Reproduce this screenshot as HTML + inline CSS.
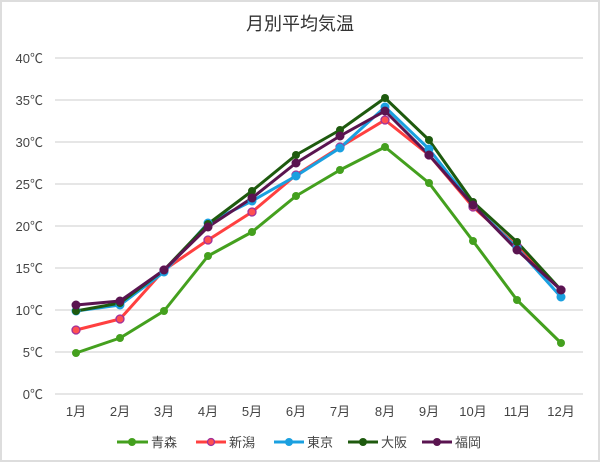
<!DOCTYPE html>
<html><head><meta charset="utf-8"><style>
html,body{margin:0;padding:0;background:#fff}
svg{display:block}
text{font-family:"Liberation Sans","Noto Sans CJK JP",sans-serif}
</style></head><body>
<svg width="600" height="462" viewBox="0 0 600 462" xmlns="http://www.w3.org/2000/svg">
<rect x="1" y="1" width="598" height="460" fill="#fff" stroke="#ddd" stroke-width="2"/>
<text x="300" y="30" text-anchor="middle" font-size="18" fill="#333">月別平均気温</text>
<g stroke="#ddd" stroke-width="1.5">
<line x1="55" x2="583" y1="58" y2="58"/><line x1="55" x2="583" y1="100" y2="100"/><line x1="55" x2="583" y1="142" y2="142"/><line x1="55" x2="583" y1="184" y2="184"/><line x1="55" x2="583" y1="226" y2="226"/><line x1="55" x2="583" y1="268" y2="268"/><line x1="55" x2="583" y1="310" y2="310"/><line x1="55" x2="583" y1="352" y2="352"/><line x1="55" x2="583" y1="394" y2="394"/>
</g>
<g font-size="13" fill="#444" text-anchor="end">
<text x="43" y="63">40℃</text><text x="43" y="105">35℃</text><text x="43" y="147">30℃</text><text x="43" y="189">25℃</text><text x="43" y="231">20℃</text><text x="43" y="273">15℃</text><text x="43" y="315">10℃</text><text x="43" y="357">5℃</text><text x="43" y="399">0℃</text>
</g>
<g font-size="13" fill="#444" text-anchor="middle">
<text x="76" y="416">1月</text><text x="120" y="416">2月</text><text x="164" y="416">3月</text><text x="208" y="416">4月</text><text x="252" y="416">5月</text><text x="296" y="416">6月</text><text x="340" y="416">7月</text><text x="385" y="416">8月</text><text x="429" y="416">9月</text><text x="473" y="416">10月</text><text x="517" y="416">11月</text><text x="561" y="416">12月</text>
</g>
<g fill="none" stroke-width="3" stroke-linejoin="round">
<polyline stroke="#44a01e" points="76,353 120,338 164,311 208,256 252,232 296,196 340,170 385,147 429,183 473,241 517,300 561,343"/>
<polyline stroke="#ff4040" points="76,330 120,319 164,270 208,240 252,212 296,175 340,147 385,120 429,155 473,207 517,246 561,290"/>
<polyline stroke="#1aa0e0" points="76,311 120,305 164,272 208,223 252,201 296,176 340,148 385,107 429,149 473,205 517,248 561,297"/>
<polyline stroke="#1e5a0e" points="76,311 120,303 164,270 208,224 252,191 296,155 340,130 385,98 429,140 473,202 517,242 561,290"/>
<polyline stroke="#5a1450" points="76,305 120,301 164,270 208,227 252,198 296,163 340,136 385,111 429,155 473,205 517,250 561,290"/>
</g>
<g fill="#44a01e"><circle cx="76" cy="353" r="4"/><circle cx="120" cy="338" r="4"/><circle cx="164" cy="311" r="4"/><circle cx="208" cy="256" r="4"/><circle cx="252" cy="232" r="4"/><circle cx="296" cy="196" r="4"/><circle cx="340" cy="170" r="4"/><circle cx="385" cy="147" r="4"/><circle cx="429" cy="183" r="4"/><circle cx="473" cy="241" r="4"/><circle cx="517" cy="300" r="4"/><circle cx="561" cy="343" r="4"/></g>
<g fill="#ff5050" stroke="#a0309a" stroke-width="1.3"><circle cx="76" cy="330" r="4"/><circle cx="120" cy="319" r="4"/><circle cx="164" cy="270" r="4"/><circle cx="208" cy="240" r="4"/><circle cx="252" cy="212" r="4"/><circle cx="296" cy="175" r="4"/><circle cx="340" cy="147" r="4"/><circle cx="385" cy="120" r="4"/><circle cx="429" cy="155" r="4"/><circle cx="473" cy="207" r="4"/><circle cx="517" cy="246" r="4"/><circle cx="561" cy="290" r="4"/></g>
<g fill="#1aa0e0"><circle cx="76" cy="311" r="4.5"/><circle cx="120" cy="305" r="4.5"/><circle cx="164" cy="272" r="4.5"/><circle cx="208" cy="223" r="4.5"/><circle cx="252" cy="201" r="4.5"/><circle cx="296" cy="176" r="4.5"/><circle cx="340" cy="148" r="4.5"/><circle cx="385" cy="107" r="4.5"/><circle cx="429" cy="149" r="4.5"/><circle cx="473" cy="205" r="4.5"/><circle cx="517" cy="248" r="4.5"/><circle cx="561" cy="297" r="4.5"/></g>
<g fill="#1e5a0e"><circle cx="76" cy="311" r="4"/><circle cx="120" cy="303" r="4"/><circle cx="164" cy="270" r="4"/><circle cx="208" cy="224" r="4"/><circle cx="252" cy="191" r="4"/><circle cx="296" cy="155" r="4"/><circle cx="340" cy="130" r="4"/><circle cx="385" cy="98" r="4"/><circle cx="429" cy="140" r="4"/><circle cx="473" cy="202" r="4"/><circle cx="517" cy="242" r="4"/><circle cx="561" cy="290" r="4"/></g>
<g fill="#5a1450"><circle cx="76" cy="305" r="4.5"/><circle cx="120" cy="301" r="4.5"/><circle cx="164" cy="270" r="4.5"/><circle cx="208" cy="227" r="4.5"/><circle cx="252" cy="198" r="4.5"/><circle cx="296" cy="163" r="4.5"/><circle cx="340" cy="136" r="4.5"/><circle cx="385" cy="111" r="4.5"/><circle cx="429" cy="155" r="4.5"/><circle cx="473" cy="205" r="4.5"/><circle cx="517" cy="250" r="4.5"/><circle cx="561" cy="290" r="4.5"/></g>
<g stroke-width="3">
<line x1="117" x2="148" y1="442" y2="442" stroke="#44a01e"/><circle cx="132" cy="442" r="4" fill="#44a01e"/>
<line x1="196" x2="226" y1="442" y2="442" stroke="#ff4040"/><circle cx="211" cy="442" r="3.5" fill="#ff5050" stroke="#a0309a" stroke-width="1.3"/>
<line x1="274" x2="304" y1="442" y2="442" stroke="#1aa0e0"/><circle cx="289" cy="442" r="4" fill="#1aa0e0"/>
<line x1="348" x2="378" y1="442" y2="442" stroke="#1e5a0e"/><circle cx="363" cy="442" r="4" fill="#1e5a0e"/>
<line x1="422" x2="452" y1="442" y2="442" stroke="#5a1450"/><circle cx="437" cy="442" r="4" fill="#5a1450"/>
</g>
<g font-size="13" fill="#444">
<text x="151" y="447">青森</text><text x="229" y="447">新潟</text><text x="307" y="447">東京</text><text x="381" y="447">大阪</text><text x="455" y="447">福岡</text>
</g>
</svg>
</body></html>
